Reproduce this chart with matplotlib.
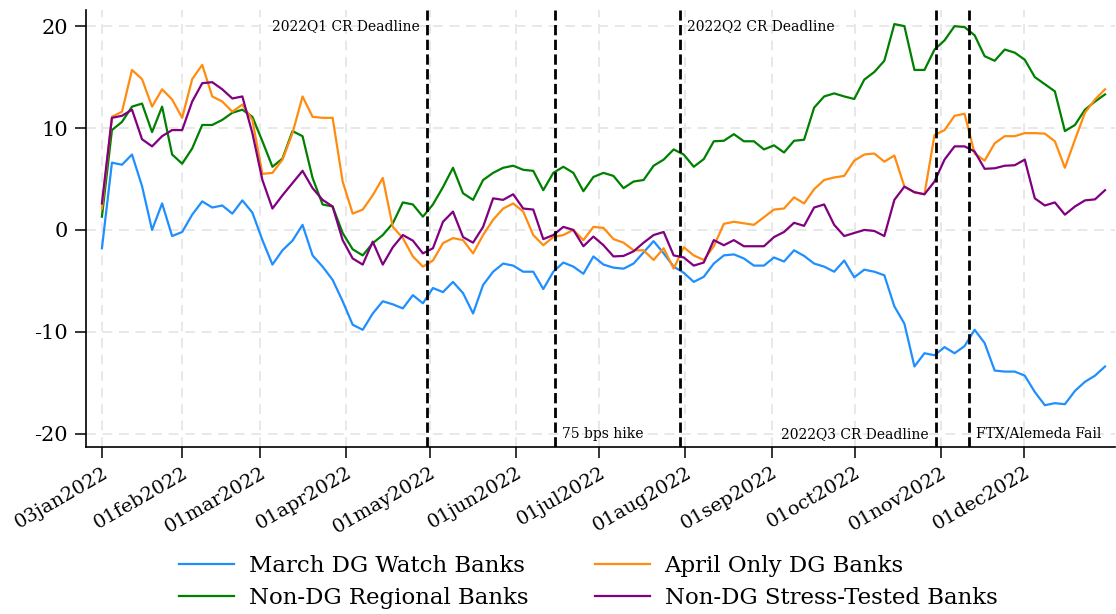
import matplotlib
matplotlib.use('Agg')
import matplotlib.pyplot as plt
import pandas as pd

plt.rcParams['font.family'] = ['DejaVu Serif']
plt.rcParams['axes.unicode_minus'] = False

# -----------------------------------------------------------------------------
# DATA (~every 3.6 days, 03jan2022 .. 30dec2022)
# -----------------------------------------------------------------------------
dates = pd.date_range('2022-01-03', '2022-12-30', periods=101)

march_dg_watch = [
    -1.8, 6.6, 6.4, 7.4, 4.3, 0.0, 2.6, -0.6, -0.2, 1.5, 2.8, 2.2, 2.4, 1.6, 2.9, 1.7, -1.0, -3.4, -2.0,
    -1.05, 0.5, -2.5, -3.6, -4.9, -7.0, -9.3, -9.8, -8.2, -7.0, -7.3, -7.7, -6.4, -7.2, -5.7, -6.1, -5.1,
    -6.2, -8.2, -5.4, -4.1, -3.3, -3.5, -4.1, -4.1, -5.8, -4.1, -3.2, -3.6, -4.3, -2.6, -3.4, -3.7, -3.8,
    -3.3, -2.2, -1.1, -2.3, -3.6, -4.2, -5.1, -4.6, -3.3, -2.5, -2.4, -2.8, -3.5, -3.5, -2.7, -3.1, -2.0,
    -2.55, -3.3, -3.6, -4.1, -3.0, -4.65, -3.9, -4.1, -4.45, -7.5, -9.2, -13.4, -12.1, -12.3, -11.5, -12.1, -11.4, -9.8,
    -11.1, -13.8, -13.9, -13.9, -14.3, -15.9, -17.2, -17.0, -17.1, -15.8, -14.9, -14.3, -13.4,
]
april_only_dg = [
    2.1, 11.1, 11.6, 15.7, 14.8, 12.1, 13.8, 12.8, 11.0, 14.8, 16.2, 13.1, 12.6, 11.6, 12.3, 10.8, 5.5, 5.6, 6.9,
    9.5, 13.1, 11.1, 11.0, 11.0, 4.75, 1.6, 2.0, 3.4, 5.1, 0.3, -0.8, -2.6, -3.6, -3.0, -1.3, -0.8,
    -1.0, -2.3, -0.5, 1.0, 2.1, 2.6, 1.8, -0.5, -1.5, -0.7, -0.5, 0.0, -1.0, 0.3, 0.2, -0.9, -1.25,
    -2.0, -2.0, -2.95, -1.8, -3.8, -1.7, -2.5, -2.95, -1.6, 0.6, 0.8, 0.65, 0.5, 1.25, 2.0, 2.1, 3.2,
    2.6, 4.0, 4.9, 5.15, 5.3, 6.8, 7.4, 7.5, 6.7, 7.3, 4.25, 3.7, 3.5, 9.3, 9.8, 11.2, 11.4, 7.5,
    6.8, 8.5, 9.2, 9.2, 9.5, 9.5, 9.45, 8.7, 6.1, 8.85, 11.5, 12.8, 13.8,
]
non_dg_regional = [
    1.3, 9.8, 10.6, 12.1, 12.4, 9.6, 12.1, 7.4, 6.5, 8.0, 10.3, 10.3, 10.8, 11.5, 11.8, 11.1, 8.7, 6.2, 7.0,
    9.7, 9.2, 5.1, 2.5, 2.3, -0.3, -1.9, -2.5, -1.3, -0.5, 0.65, 2.7, 2.5, 1.3, 2.5, 4.2, 6.1,
    3.6, 2.95, 4.9, 5.6, 6.1, 6.3, 5.9, 5.8, 3.9, 5.6, 6.2, 5.6, 3.8, 5.2, 5.6, 5.3, 4.1,
    4.75, 4.9, 6.3, 6.9, 7.9, 7.4, 6.2, 6.95, 8.7, 8.75, 9.4, 8.7, 8.7, 7.9, 8.3, 7.6, 8.75,
    8.85, 12.0, 13.1, 13.4, 13.1, 12.85, 14.75, 15.5, 16.6, 20.2, 20.0, 15.7, 15.7, 17.7, 18.6, 20.0, 19.9, 19.1,
    17.05, 16.6, 17.7, 17.4, 16.7, 15.0, 14.3, 13.6, 9.7, 10.3, 11.8, 12.6, 13.3,
]
non_dg_stress_tested = [
    2.6, 11.0, 11.2, 11.8, 8.9, 8.2, 9.2, 9.8, 9.8, 12.6, 14.4, 14.5, 13.8, 12.9, 13.1, 9.5, 4.9, 2.1, 3.4,
    4.6, 5.8, 4.1, 2.95, 2.3, -1.0, -2.8, -3.4, -1.15, -3.4, -1.7, -0.5, -1.05, -2.3, -1.8, 0.8, 1.8,
    -0.7, -1.25, 0.3, 3.1, 2.95, 3.5, 2.1, 2.0, -0.9, -0.5, 0.3, 0.0, -1.6, -0.65, -1.5, -2.6, -2.55,
    -2.1, -1.25, -0.5, -0.2, -2.5, -2.7, -3.5, -3.2, -1.0, -1.5, -1.0, -1.6, -1.6, -1.6, -0.7, -0.2, 0.7,
    0.4, 2.2, 2.5, 0.5, -0.6, -0.3, 0.0, -0.1, -0.6, 2.95, 4.25, 3.7, 3.5, 4.75, 6.9, 8.2, 8.2, 7.7,
    6.0, 6.05, 6.3, 6.35, 6.9, 3.1, 2.4, 2.7, 1.5, 2.3, 2.9, 3.0, 3.9,
]

tick_dates = ['2022-01-03', '2022-02-01', '2022-03-01', '2022-04-01', '2022-05-01', '2022-06-01',
              '2022-07-01', '2022-08-01', '2022-09-01', '2022-10-01', '2022-11-01', '2022-12-01']
tick_labels = ['03jan2022', '01feb2022', '01mar2022', '01apr2022', '01may2022', '01jun2022',
               '01jul2022', '01aug2022', '01sep2022', '01oct2022', '01nov2022', '01dec2022']

events = ['2022-04-30', '2022-06-15', '2022-07-30', '2022-10-30', '2022-11-11']
event_labels = ['2022Q1 CR Deadline', '75 bps hike', '2022Q2 CR Deadline',
                '2022Q3 CR Deadline', 'FTX/Alemeda Fail']

# -----------------------------------------------------------------------------
# PLOT
# -----------------------------------------------------------------------------
fig, ax = plt.subplots(figsize=(11.16, 6.14), dpi=100)
fig.subplots_adjust(left=0.077, right=0.9995, top=0.984, bottom=0.272)

series = [
    (march_dg_watch, '#1f8fff', 'March DG Watch Banks'),
    (non_dg_regional, '#008000', 'Non-DG Regional Banks'),
    (april_only_dg, '#ff8c0f', 'April Only DG Banks'),
    (non_dg_stress_tested, '#800080', 'Non-DG Stress-Tested Banks'),
]
for vals, col, lab in series:
    ax.plot(dates, vals, color=col, linewidth=1.6, label=lab, zorder=3)

# event lines + labels
ev = pd.to_datetime(events)
off = pd.Timedelta(days=2.5)
for d in ev:
    ax.axvline(d, color='black', linestyle='--', linewidth=2, zorder=4)
ax.text(ev[0] - off, 20, event_labels[0], ha='right', va='center', fontsize=10)
ax.text(ev[1] + off, -20, event_labels[1], ha='left', va='center', fontsize=10)
ax.text(ev[2] + off, 20, event_labels[2], ha='left', va='center', fontsize=10)
ax.text(ev[3] - off, -20, event_labels[3], ha='right', va='center', fontsize=10)
ax.text(ev[4] + off, -20, event_labels[4], ha='left', va='center', fontsize=10)

ax.set_xlim(pd.Timestamp('2021-12-28 06:00'), pd.Timestamp('2023-01-02 18:00'))
ax.set_ylim(-21.3, 21.6)
ax.set_xticks(pd.to_datetime(tick_dates))
ax.set_xticklabels(tick_labels, rotation=30, ha='right', rotation_mode='anchor', fontsize=14)
ax.set_yticks([-20, -10, 0, 10, 20])
ax.set_yticklabels(['-20', '-10', '0', '10', '20'], fontsize=15)
ax.tick_params(axis='both', direction='out', length=8, width=1.1, colors='black')
ax.tick_params(axis='x', pad=4)
ax.tick_params(axis='y', pad=5)

ax.grid(True, color='#e8e8e8', linestyle=(0, (5, 3.5)), linewidth=1.4, zorder=0)
for s in ['top', 'right']:
    ax.spines[s].set_visible(False)
for s in ['left', 'bottom']:
    ax.spines[s].set_linewidth(1.2)

fig.legend(loc='center', bbox_to_anchor=(588 / 1116, 1 - 582 / 614), ncol=2, frameon=False,
           fontsize=16.5, handlelength=2.4, handletextpad=0.65, columnspacing=2.9,
           labelspacing=0.4)

plt.savefig('out.png', dpi=100)
plt.close()
